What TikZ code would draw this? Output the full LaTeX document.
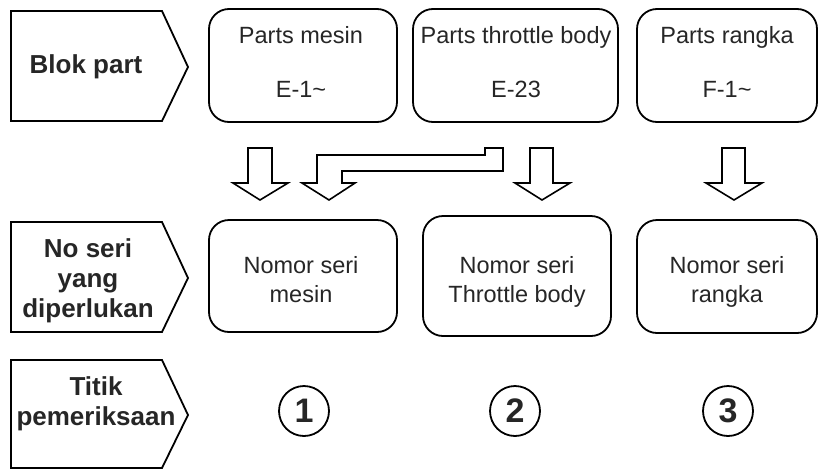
\documentclass[tikz,border=0pt]{standalone}
\usepackage{fontspec}
\setmainfont{Liberation Sans}
\begin{document}
\begin{tikzpicture}[x=1pt,y=-1pt,line width=1.8pt,
  box/.style={draw,rounded corners=20pt,line width=1.8pt},
  pent/.style={draw,line width=1.8pt,line join=miter},
  barrow/.style={draw,line width=1.6pt,line join=miter,fill=white},
  txt/.style={anchor=base,inner sep=0pt,font=\fontsize{23.5}{28}\selectfont,text=black!85},
  lbl/.style={anchor=base,inner sep=0pt,font=\bfseries\fontsize{26}{30}\selectfont,text=black!85},
  num/.style={draw,circle,minimum size=50pt,inner sep=0pt,line width=1.8pt,font=\bfseries\fontsize{34}{34}\selectfont,text=black!85}]
\useasboundingbox (0,0) rectangle (819,469);
% left pentagon labels
\draw[pent] (11,11) -- (162,11) -- (188,67) -- (162,121) -- (11,121) -- cycle;
\draw[pent] (11,222) -- (162,222) -- (188,278) -- (162,332) -- (11,332) -- cycle;
\draw[pent] (11,360) -- (162,360) -- (188,415) -- (162,468) -- (11,468) -- cycle;
\node[lbl] (l1) at (86,73) {Blok part};
\node[lbl] (l2a) at (88,257) {No seri};
\node[lbl] (l2b) at (88,287) {yang};
\node[lbl] (l2c) at (88,317) {diperlukan};
\node[lbl] (l3a) at (96,395) {Titik};
\node[lbl] (l3b) at (96,425) {pemeriksaan};
% top boxes
\draw[box] (209,9) rectangle (397,122);
\draw[box] (413,9) rectangle (618,122);
\draw[box] (637,9) rectangle (817,122);
\node[txt] (t1a) at (301,43) {Parts mesin};
\node[txt] (t1b) at (301,97) {E-1\char"007E};
\node[txt] (t2a) at (516,43) {Parts throttle body};
\node[txt] (t2b) at (516,97) {E-23};
\node[txt] (t3a) at (727,43) {Parts rangka};
\node[txt] (t3b) at (727,97) {F-1\char"007E};
% middle boxes
\draw[box] (209,220) rectangle (397,332);
\draw[box] (423,216) rectangle (611,336);
\draw[box] (637,220) rectangle (817,333);
\node[txt] (m1a) at (301,273) {Nomor seri};
\node[txt] (m1b) at (301,302) {mesin};
\node[txt] (m2a) at (517,273) {Nomor seri};
\node[txt] (m2b) at (517,302) {Throttle body};
\node[txt] (m3a) at (727,273) {Nomor seri};
\node[txt] (m3b) at (727,302) {rangka};
% block arrows
\draw[barrow] (248,148) -- (272,148) -- (272,183) -- (288,183) -- (260,200) -- (233,183) -- (248,183) -- cycle;
\draw[barrow] (302,183) -- (317,183) -- (317,155) -- (485,155) -- (485,148) -- (503,148) -- (503,171) -- (342,171) -- (342,183) -- (355,183) -- (329,200) -- cycle;
\draw[barrow] (530,148) -- (553,148) -- (553,183) -- (570,183) -- (542,200) -- (515,183) -- (530,183) -- cycle;
\draw[barrow] (722,148) -- (745,148) -- (745,183) -- (762,183) -- (734,200) -- (706,183) -- (722,183) -- cycle;
% check points
\node[num] (c1) at (304,411) {1};
\node[num] (c2) at (515,411) {2};
\node[num] (c3) at (728,411) {3};
\end{tikzpicture}
\end{document}
